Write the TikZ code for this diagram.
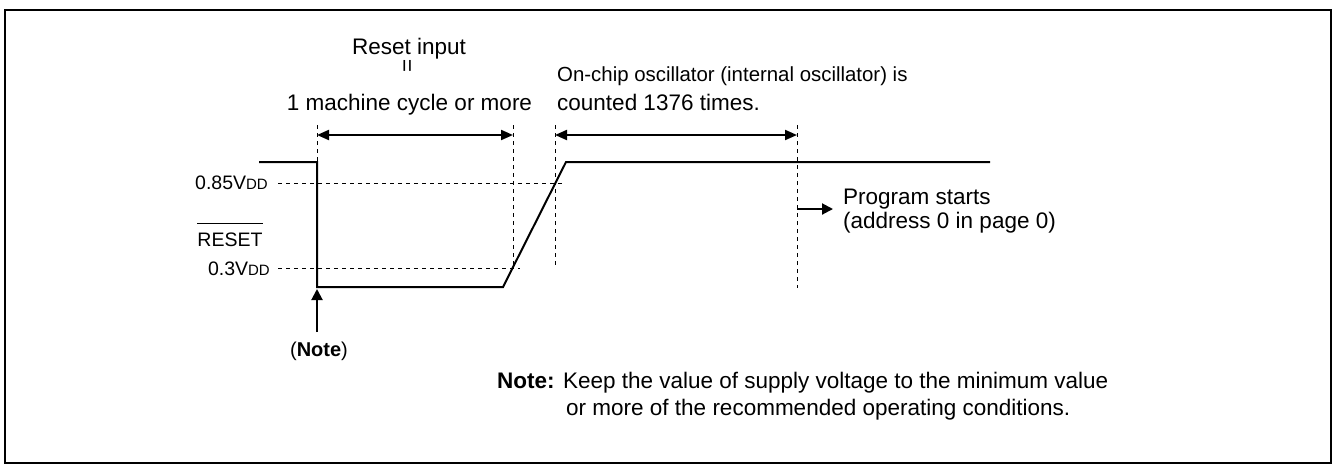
\documentclass[tikz,border=0pt]{standalone}
\usepackage{fontspec}
\setmainfont{Liberation Sans}
\usetikzlibrary{arrows.meta}

\begin{document}
\begin{tikzpicture}[x=1pt, y=-1pt,
		sig/.style={line width=2pt, line join=miter},
		guide/.style={line width=1pt, dash pattern=on 4pt off 4pt},
		span/.style={line width=2pt, {Triangle[length=12pt,width=10pt]}-{Triangle[length=12pt,width=10pt]}},
		pointer/.style={line width=2pt, -{Triangle[length=11pt,width=11pt]}},
		txt/.style={font=\fontsize{22.5}{27}\selectfont, inner sep=0pt},
		lvl/.style={font=\fontsize{19.5}{23}\selectfont, inner sep=0pt}]
	\useasboundingbox (0,0) rectangle (1333,464);
	\draw[line width=2pt] (5,10) rectangle (1331,463);
	% RESET waveform
	\coordinate (w0) at (259,162);
	\coordinate (w1) at (317,162);
	\coordinate (w2) at (317,287);
	\coordinate (w3) at (503,287);
	\coordinate (w4) at (566,162);
	\coordinate (w5) at (990,162);
	\draw[sig] (w0) -- (w1) -- (w2) -- (w3) -- (w4) -- (w5);
	% guide lines
	\coordinate (ga) at (317,125);
	\coordinate (gb) at (513,125);
	\coordinate (gb') at (513,268);
	\coordinate (gc) at (555,125);
	\coordinate (gc') at (555,265);
	\coordinate (gd) at (797,125);
	\coordinate (gd') at (797,288);
	\draw[guide] (ga) -- (w1);
	\draw[guide] (gb) -- (gb');
	\draw[guide] (gc) -- (gc');
	\draw[guide] (gd) -- (gd');
	\coordinate (h85) at (278,183);
	\coordinate (h85') at (563,183);
	\coordinate (h30) at (278,268);
	\coordinate (h30') at (520,268);
	\draw[guide] (h85) -- (h85');
	\draw[guide] (h30) -- (h30');
	% levels
	\node[lvl, anchor=base east] (v85) at (268,189) {0.85V{\fontsize{15}{17}\selectfont DD}};
	\node[lvl, anchor=base east] (v30) at (270,275) {0.3V{\fontsize{15}{17}\selectfont DD}};
	\node[lvl, anchor=base] (rst) at (230,246) {RESET};
	\draw[line width=1pt] ([yshift=9pt]rst.north west) -- ([yshift=9pt]rst.north east);
	% time spans
	\coordinate (ta) at (317,135);
	\coordinate (tb) at (513,135);
	\coordinate (tc) at (555,135);
	\coordinate (td) at (797,135);
	\draw[span] (ta) -- (tb);
	\draw[span] (tc) -- (td);
	\node[txt, anchor=base] (rin) at (409,54) {Reset input};
	\node[txt, rotate=90] (eq) at (409,66) {=};
	\node[txt, anchor=base] (cyc) at (409.5,110) {1 machine cycle or more};
	\node[txt, anchor=base west, font=\fontsize{20.4}{24}\selectfont] (osc) at (557,81) {On-chip oscillator (internal oscillator) is};
	\node[txt, anchor=base west] (cnt) at (557,110) {counted 1376 times.};
	% program start
	\coordinate (ps) at (797,209);
	\coordinate (ps') at (833,209);
	\draw[pointer] (ps) -- (ps');
	\node[txt, anchor=base west] (prg) at (843,204) {Program starts};
	\node[txt, anchor=base west] (adr) at (843,228) {(address 0 in page 0)};
	% note
	\coordinate (nt) at (317,332);
	\coordinate (nt') at (317,289);
	\draw[pointer] (nt) -- (nt');
	\node[txt, anchor=base, font=\fontsize{20}{24}\selectfont] (nlbl) at (319,356) {(\textbf{Note})};
	\node[txt, anchor=base west] (n1) at (497,388) {\textbf{Note:} Keep the value of supply voltage to the minimum value};
	\node[txt, anchor=base west] (n2) at (566,415) {or more of the recommended operating conditions.};
\end{tikzpicture}
\end{document}
